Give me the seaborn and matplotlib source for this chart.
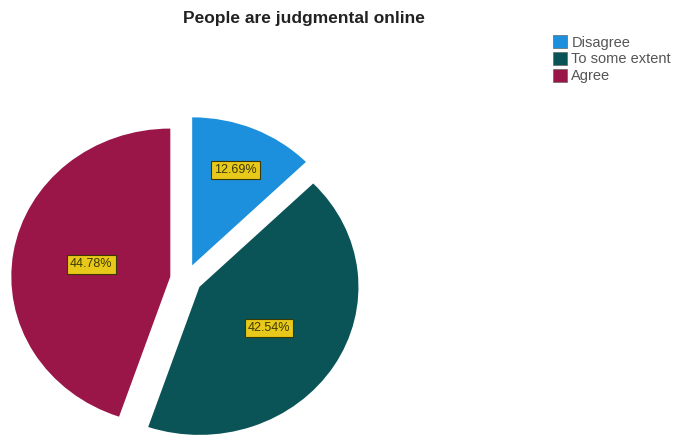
import numpy as np
import matplotlib
matplotlib.use("Agg")
import matplotlib.pyplot as plt
import seaborn as sns
from matplotlib.patches import Patch

sns.set_theme(style="white")
plt.rcParams["font.family"] = ["Liberation Sans", "DejaVu Sans"]

# Survey responses
categories = ["Disagree", "To some extent", "Agree"]
percentages = [12.69, 42.54, 44.78]
colors = ["#1C8FDD", "#0A5457", "#9A1548"]

W, H = 673, 436
fig = plt.figure(figsize=(W / 100, H / 100), dpi=100)
ax = fig.add_axes([0, 0, 1, 1])

RX, RY = 159.0, 148.0  # pixels per data unit horizontally / vertically
cx, cy = 186, 279      # pie centre in pixels (from top-left)

wedges, texts, autotexts = ax.pie(
    percentages,
    colors=colors,
    startangle=90,
    counterclock=False,
    explode=[0.1, 0.1, 0.1],
    autopct=lambda p: f"{p:.2f}%",
    pctdistance=0.55,
    radius=1.0,
    wedgeprops=dict(edgecolor="none", linewidth=0),
    textprops=dict(fontsize=9, color="#3A3A00"),
)

# nudge the label radii so each sits near its slice's middle
for t, k in zip(autotexts, [1.23, 0.95, 0.93]):
    x, y = t.get_position()
    t.set_position((x * k, y * k))

for t in autotexts:
    t.set_bbox(dict(boxstyle="square,pad=0.25", facecolor="#E8C81A",
                    edgecolor="#3A3A00", linewidth=0.8))

ax.set_aspect("auto")
ax.set_xlim(-cx / RX, (W - cx) / RX)
ax.set_ylim(-(H - cy) / RY, cy / RY)
ax.axis("off")

fig.text(304 / W, 1 - 18 / H, "People are judgmental online",
         ha="center", va="center", fontsize=12.5, fontweight="bold",
         color="#222222")

handles = [Patch(facecolor=c, edgecolor="#666666", linewidth=0.5) for c in colors]
leg = fig.legend(handles, categories, loc="upper left",
                 bbox_to_anchor=(543 / W, 1 - 25 / H), frameon=False,
                 fontsize=10.5, handlelength=0.95, handleheight=1.0,
                 handletextpad=0.3, labelspacing=0.15, borderpad=0.2)
for txt in leg.get_texts():
    txt.set_color("#555555")

fig.savefig("out.png", dpi=100)
